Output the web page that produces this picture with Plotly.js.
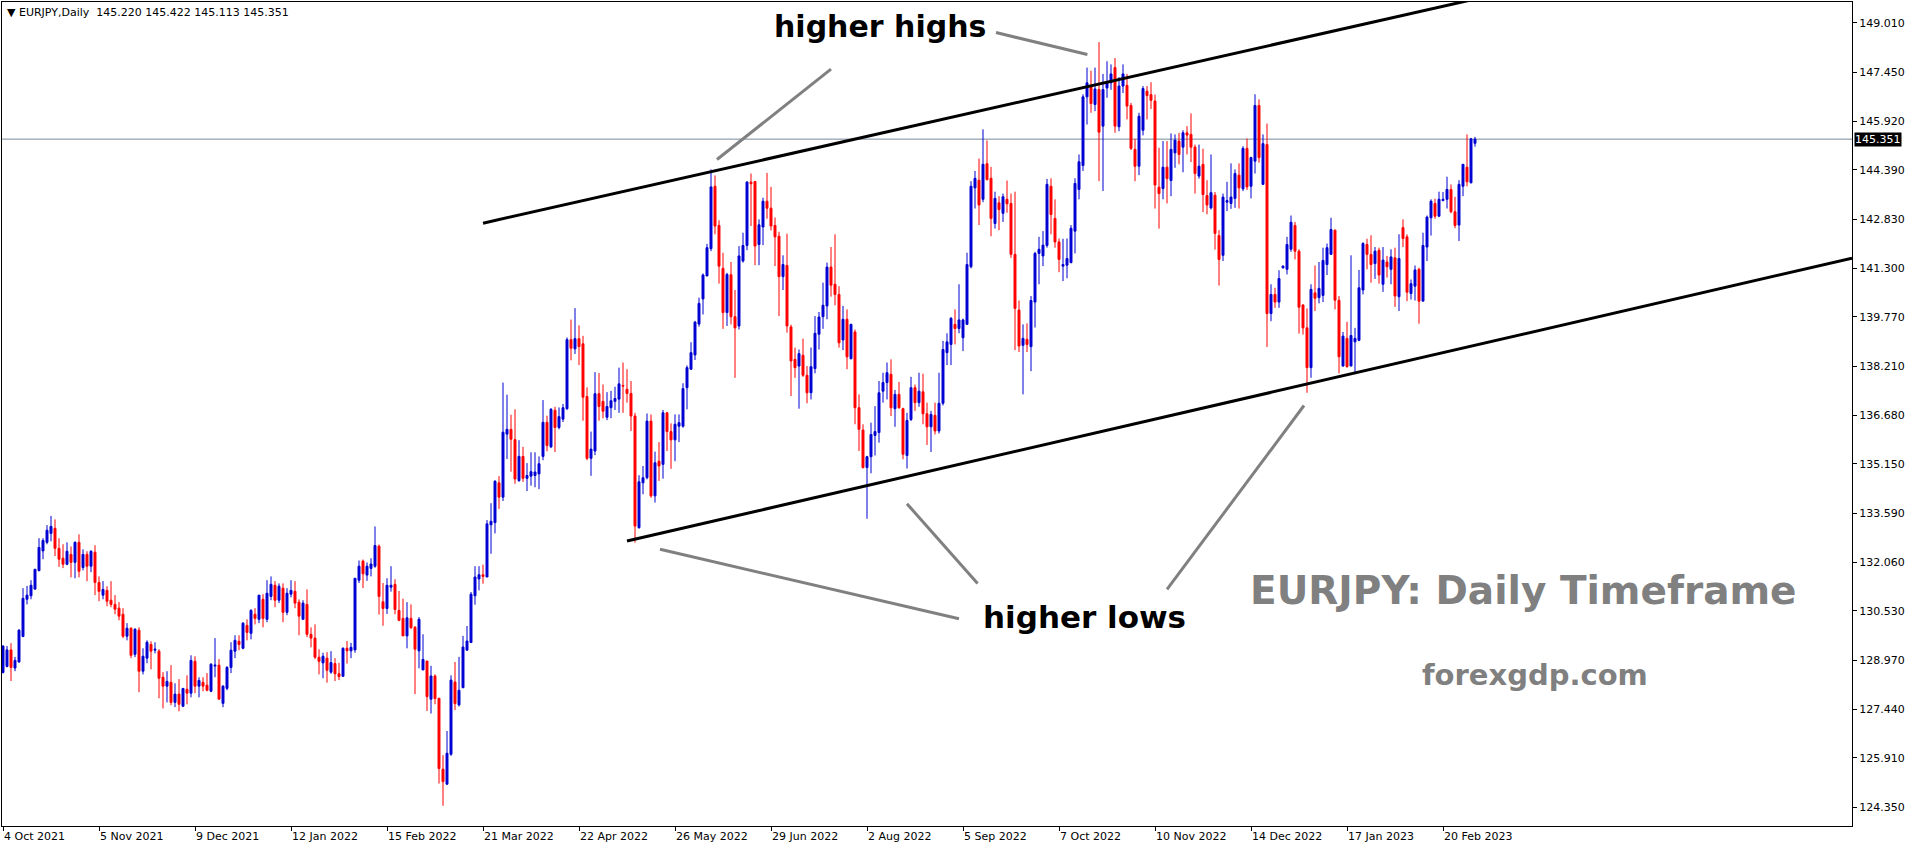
<!DOCTYPE html>
<html>
<head>
<meta charset="utf-8">
<script src="https://cdn.plot.ly/plotly-3.0.1.min.js"></script>
<style>
html,body{margin:0;padding:0;background:#fff;}
#chart{width:1916px;height:850px;}
</style>
</head>
<body>
<div id="chart"></div>
<script>
// ---- data (EURJPY daily) ----
const symbolTitle = "EURJPY,Daily";
const firstDate = "2021-10-04";

const openP = [
128.59,128.78,129.30,128.73,128.92,129.72,130.89,131.00,131.21,131.79,
132.41,132.68,132.96,133.12,132.49,132.18,131.99,132.30,132.05,132.68,
131.89,132.30,131.93,132.37,131.42,131.02,131.17,130.86,130.73,130.61,
130.42,129.73,129.98,129.16,129.92,128.63,129.04,129.47,129.29,129.26,
128.44,128.16,128.28,127.65,127.91,127.53,128.06,127.94,128.94,128.16,
128.28,128.19,128.00,128.79,128.82,127.62,128.09,128.75,129.26,129.57,
129.35,130.07,129.82,130.42,130.26,130.89,130.26,130.98,131.33,130.86,
131.24,130.48,131.05,131.14,130.80,130.26,130.73,129.79,129.67,129.07,
128.89,129.04,128.60,128.87,128.55,128.47,129.35,129.27,129.30,131.49,
132.09,131.65,131.86,131.93,132.56,130.81,130.60,131.27,131.36,130.54,
130.29,129.74,130.29,130.01,129.27,128.67,128.95,127.75,128.48,127.78,
125.55,125.08,126.02,128.29,127.57,128.11,129.29,129.53,131.00,131.53,
131.66,131.59,133.23,133.30,134.55,134.10,136.08,136.23,135.91,134.62,
135.38,134.69,134.76,134.78,134.83,135.38,136.45,135.68,136.83,136.29,
136.55,136.88,139.05,138.76,139.08,138.92,137.26,135.32,135.55,137.35,
137.11,136.61,136.91,137.11,137.18,137.61,137.49,137.36,136.65,133.14,
134.55,134.71,136.49,134.14,135.23,135.13,136.75,136.16,135.90,136.33,
136.33,137.54,138.12,138.57,139.54,140.33,141.05,141.91,143.87,142.64,
141.29,139.90,141.09,139.77,139.48,141.52,142.01,144.00,144.02,142.04,
142.59,143.40,143.18,142.64,142.30,141.03,141.38,139.45,138.43,138.22,
138.56,137.93,137.38,138.14,139.22,139.77,140.11,141.33,140.79,140.47,
139.04,139.69,138.45,139.29,136.91,136.21,135.03,135.37,136.04,136.13,
137.43,137.70,137.96,136.88,137.33,136.88,135.41,136.54,137.54,137.07,
137.41,136.72,136.31,136.67,136.18,137.05,138.64,138.90,139.53,139.40,
139.11,139.53,141.34,143.82,144.06,143.46,144.58,144.12,142.70,143.35,
143.02,143.46,143.33,141.73,139.98,138.87,139.06,138.83,140.23,141.76,
141.68,142.01,143.87,142.86,142.12,141.36,141.39,141.47,142.46,143.77,
144.52,146.68,147.02,146.44,146.91,145.76,146.96,147.12,147.60,145.74,
147.02,147.04,146.41,145.03,144.50,145.63,146.86,146.75,146.55,143.84,
143.80,144.47,144.05,144.92,145.29,145.10,145.55,145.50,145.10,144.19,
144.56,143.58,143.19,143.59,142.32,141.70,143.37,143.33,143.49,144.22,
143.79,145.06,143.87,144.66,146.41,143.93,145.18,139.87,140.47,140.23,
141.31,141.26,141.89,142.64,141.83,140.14,139.42,138.17,140.52,140.37,
140.44,141.41,141.73,142.49,140.29,138.22,139.09,138.22,138.98,139.03,
140.61,142.04,141.73,141.44,141.86,140.79,141.49,141.26,141.62,140.40,
142.57,142.28,140.50,140.73,141.26,140.26,141.96,142.88,143.33,142.93,
143.42,143.46,143.77,143.07,142.65,143.87,144.47,143.98,145.220];

const highP = [
129.44,129.42,129.51,129.08,129.95,131.24,131.31,131.49,131.85,132.81,
132.81,133.22,133.51,133.40,132.81,132.62,132.68,132.55,132.71,132.93,
132.46,132.40,132.43,132.59,131.61,131.46,131.30,131.46,131.02,130.80,
130.61,130.14,130.01,129.98,130.01,129.35,129.60,129.57,129.54,129.32,
128.60,128.63,128.82,128.25,128.38,128.09,128.50,129.13,129.10,128.44,
128.44,128.57,128.88,129.67,129.01,128.19,128.79,129.54,129.76,129.76,
130.17,130.26,130.58,130.61,131.02,131.05,131.49,131.61,131.46,131.39,
131.39,131.24,131.49,131.46,130.89,130.86,131.20,130.01,130.10,129.32,
129.21,129.23,129.26,129.04,128.89,129.38,129.58,129.52,131.55,132.11,
132.14,132.05,132.18,133.18,132.61,131.40,131.55,131.93,131.52,131.15,
130.91,130.80,130.73,130.05,130.33,129.79,128.95,128.80,128.53,127.78,
125.99,126.75,128.50,128.92,129.08,129.74,130.05,131.12,131.93,131.93,
131.98,133.38,133.91,134.63,134.76,137.70,137.32,136.69,136.86,135.89,
135.68,135.17,135.51,135.51,135.38,137.15,136.66,136.90,136.94,136.92,
137.03,139.12,139.68,140.04,139.50,139.17,137.55,136.16,138.03,138.00,
137.64,137.40,137.44,137.57,138.17,138.33,138.12,137.75,136.75,134.79,
135.08,136.73,136.70,135.53,135.83,136.84,136.78,136.42,136.70,136.70,
137.68,138.24,138.97,139.64,140.37,141.13,142.06,144.40,144.21,142.80,
141.78,141.15,141.49,140.61,141.99,142.41,144.03,144.27,144.04,142.83,
143.51,144.29,143.85,142.89,142.44,141.70,142.38,139.52,138.80,138.74,
139.08,138.22,138.80,139.79,139.92,140.84,141.47,141.96,142.36,140.73,
140.11,140.00,139.55,139.37,137.33,136.39,135.40,136.44,136.96,137.75,
138.01,138.33,138.43,137.47,137.72,136.91,136.75,137.88,137.64,138.01,
137.98,137.07,136.81,137.07,138.01,139.01,139.25,139.76,140.00,140.79,
139.71,141.78,144.03,144.35,144.74,145.66,145.31,144.48,143.70,143.56,
143.64,144.05,143.64,143.70,140.28,139.53,139.56,140.42,141.81,142.28,
142.46,144.10,144.12,143.46,142.23,142.22,142.23,142.65,144.12,144.87,
146.76,147.60,147.50,147.60,148.40,147.40,147.80,147.70,147.90,147.30,
147.70,147.40,146.49,145.36,146.18,147.02,147.02,147.14,146.75,145.08,
145.29,145.29,145.53,145.50,145.55,145.63,145.76,146.16,145.18,145.18,
145.05,144.06,144.87,143.69,142.49,143.64,144.01,144.59,144.40,144.59,
145.13,145.37,144.80,146.76,146.60,145.50,145.84,140.79,140.68,141.23,
141.38,142.28,142.95,142.75,141.89,140.16,140.03,140.79,141.38,141.49,
141.94,142.07,142.88,142.51,140.42,139.29,139.61,141.70,139.42,141.24,
142.11,142.22,142.33,141.96,141.94,141.96,141.68,141.89,141.94,142.36,
142.83,142.36,140.94,141.38,141.31,142.41,142.95,143.46,143.48,143.70,
143.69,144.17,143.93,143.54,144.06,144.56,145.50,145.39,145.422];

const lowP = [
128.56,128.75,128.32,128.63,128.90,129.70,130.73,130.89,131.19,131.77,
132.15,132.62,132.71,132.25,131.91,131.87,131.96,131.58,131.55,131.58,
131.80,131.46,131.74,131.02,130.83,130.89,130.67,130.64,130.42,130.23,
129.67,129.60,129.04,129.07,127.97,128.53,128.88,128.69,129.19,127.78,
127.46,127.65,127.56,127.50,127.37,127.50,127.59,127.81,127.94,127.81,
128.00,128.00,127.97,128.44,127.75,127.50,128.03,128.57,129.04,129.29,
129.32,129.60,129.63,130.10,130.14,130.01,130.17,130.86,130.64,130.77,
130.17,130.39,130.95,130.61,129.76,130.26,129.70,129.38,129.01,128.53,
128.41,128.27,128.55,128.32,128.35,128.45,128.87,129.04,129.21,131.40,
131.24,131.47,131.61,131.88,130.41,130.06,130.43,131.13,130.42,130.20,
129.74,129.35,129.95,127.91,128.72,128.67,127.38,127.30,127.59,125.10,
124.40,125.06,125.97,127.41,127.52,128.10,129.29,129.53,130.72,131.17,
131.38,131.59,132.32,132.96,133.73,133.98,135.30,134.90,134.52,134.58,
134.58,134.29,134.46,134.41,134.35,135.26,135.54,135.64,135.52,136.23,
136.46,136.84,138.40,138.60,138.25,136.50,135.26,134.77,135.42,136.50,
136.58,136.52,136.58,136.84,136.75,136.75,137.07,136.18,132.67,133.11,
134.19,134.66,134.08,133.93,134.61,134.68,135.55,134.99,135.23,135.83,
136.28,136.86,138.10,138.41,139.46,139.84,141.05,141.83,142.36,140.81,
139.39,139.48,139.53,137.85,139.37,141.47,141.86,142.62,141.39,141.39,
142.02,142.85,142.48,141.36,139.79,140.61,139.27,137.28,137.85,136.88,
137.88,137.05,137.17,137.99,138.74,139.39,139.69,140.40,140.13,138.80,
138.72,138.12,138.43,136.39,135.55,135.00,133.42,134.85,135.41,135.81,
137.07,137.17,136.65,136.31,136.88,135.29,135.00,136.49,136.81,136.94,
136.39,135.74,135.52,136.07,136.10,136.98,138.25,138.25,138.90,139.25,
138.69,139.53,141.29,143.17,142.65,143.37,144.05,142.30,142.54,142.49,
142.75,143.04,141.62,138.72,138.66,137.33,138.66,138.06,139.43,140.79,
141.36,141.94,142.36,141.94,141.17,140.89,140.98,141.45,141.76,143.46,
144.35,145.81,146.18,146.23,144.03,143.72,146.65,146.90,145.55,145.60,
146.80,145.97,145.01,144.03,144.22,145.47,145.97,146.30,143.17,142.54,
143.46,143.33,143.56,144.45,144.56,144.31,144.87,144.63,143.64,144.11,
143.06,142.99,143.14,141.88,140.75,141.52,143.09,143.16,143.19,143.17,
143.72,143.75,143.49,144.27,144.61,143.91,138.82,139.63,140.05,140.05,
141.28,141.10,141.81,141.57,139.24,139.21,137.38,137.85,139.95,140.19,
140.23,141.08,141.73,140.00,137.99,138.20,138.17,138.22,137.99,139.00,
140.47,141.26,140.84,140.96,140.81,140.55,141.00,140.79,140.08,139.95,
141.96,140.26,140.31,140.28,139.55,140.26,141.52,142.32,142.85,142.91,
143.40,143.17,143.02,142.55,142.15,143.56,143.87,143.96,145.113];

const closeP = [
129.42,129.30,128.75,128.97,129.92,130.92,131.02,131.33,131.83,132.52,
132.74,133.06,133.18,132.49,132.15,131.99,132.40,132.05,132.68,131.77,
132.30,131.93,132.40,131.42,131.14,131.20,130.83,130.73,130.58,130.36,
129.73,129.98,129.13,129.95,128.63,129.10,129.54,129.26,129.32,128.41,
128.16,128.31,127.65,127.91,127.59,128.09,127.94,128.97,128.16,128.34,
128.16,128.03,128.85,128.82,127.75,128.16,128.75,129.29,129.60,129.47,
130.14,129.85,130.54,130.29,131.02,130.29,131.08,131.36,130.86,131.30,
130.48,131.08,131.17,130.77,130.36,130.77,129.79,129.67,129.07,128.94,
129.10,128.66,128.90,128.55,128.46,129.35,129.27,129.38,131.55,131.93,
131.69,131.93,132.00,132.58,130.98,130.60,131.33,131.33,130.57,130.23,
129.74,130.31,130.00,129.32,130.26,129.00,127.83,128.48,127.77,125.57,
125.16,126.05,128.35,127.61,128.03,129.39,129.58,131.05,131.59,131.66,
131.61,133.26,133.34,134.60,134.10,136.14,136.23,135.92,134.67,135.38,
134.69,134.78,134.90,134.89,135.15,136.45,135.72,136.86,136.29,136.63,
136.91,139.05,138.78,139.08,138.83,137.24,135.32,135.61,137.35,136.95,
136.80,136.95,137.13,137.20,137.66,137.59,137.36,136.65,133.19,134.58,
134.71,136.49,134.14,135.18,135.08,136.75,136.16,135.90,136.39,136.44,
137.51,138.17,138.64,139.60,140.19,141.08,141.94,143.85,142.62,141.36,
139.90,141.10,139.77,139.42,141.68,142.01,144.00,143.95,141.99,142.66,
143.40,143.18,142.62,142.28,141.03,141.41,139.48,138.38,138.17,138.61,
137.93,137.38,138.20,139.25,139.76,140.13,141.33,140.76,140.47,138.95,
139.69,138.51,139.53,136.91,136.23,135.03,135.37,136.07,136.16,137.38,
137.70,138.01,136.91,137.33,136.91,135.45,136.51,137.54,137.07,137.43,
136.72,136.31,136.70,136.18,137.05,138.74,138.98,139.72,139.40,139.67,
139.67,141.41,143.87,144.12,143.28,144.56,144.08,142.86,143.49,143.14,
143.54,143.32,141.73,140.03,138.85,139.09,138.90,140.28,141.76,141.89,
142.02,143.93,142.98,142.12,141.57,141.41,141.60,142.55,143.96,144.64,
146.68,147.12,146.47,146.93,145.57,146.91,147.12,147.40,145.76,147.02,
147.40,146.39,145.06,144.50,146.07,146.94,146.72,146.57,143.91,143.64,
144.47,144.11,145.03,145.32,144.87,145.55,145.48,145.10,144.27,144.50,
143.61,143.28,143.67,142.39,141.57,143.53,143.42,143.53,144.27,143.82,
145.06,143.85,144.77,146.41,144.77,145.21,139.87,140.47,140.23,140.97,
141.36,142.04,142.74,141.83,140.07,139.42,138.17,140.63,140.35,140.66,
141.54,141.94,142.51,140.29,138.51,139.16,138.20,139.18,139.09,140.68,
142.07,141.73,141.41,141.83,141.08,141.55,141.34,141.65,140.42,141.60,
142.23,140.54,140.81,141.24,140.26,142.01,142.90,143.40,142.93,143.46,
143.46,143.77,143.07,142.64,143.93,144.56,144.01,145.36,145.351];

const tickDates = ["2021-10-04","2021-11-05","2021-12-09","2022-01-12","2022-02-15","2022-03-21",
  "2022-04-22","2022-05-26","2022-06-29","2022-08-02","2022-09-05","2022-10-07","2022-11-10",
  "2022-12-14","2023-01-17","2023-02-20"];
const tickLabels = ["4 Oct 2021","5 Nov 2021","9 Dec 2021","12 Jan 2022","15 Feb 2022","21 Mar 2022",
  "22 Apr 2022","26 May 2022","29 Jun 2022","2 Aug 2022","5 Sep 2022","7 Oct 2022","10 Nov 2022",
  "14 Dec 2022","17 Jan 2023","20 Feb 2023"];
const priceTicks = [149.010,147.450,145.920,144.390,142.830,141.300,139.770,138.210,136.680,
  135.150,133.590,132.060,130.530,128.970,127.440,125.910,124.350];

const lastPrice = 145.351;
const headerValues = [145.220, 145.422, 145.113, 145.351];

// ---- build trading-day calendar (weekdays) ----
const dates = [];
{
  const d = new Date(firstDate + "T00:00:00Z");
  while (dates.length < closeP.length) {
    const wd = d.getUTCDay();
    if (wd !== 0 && wd !== 6) dates.push(d.toISOString().slice(0, 10));
    d.setUTCDate(d.getUTCDate() + 1);
  }
}
const xIdx = dates.map((_, i) => i);
const tickIdx = tickDates.map(t => dates.indexOf(t));

const BLUE = "#0000d2", RED = "#ff0000";

const trace = {
  type: "candlestick",
  x: xIdx,
  open: openP, high: highP, low: lowP, close: closeP,
  increasing: {line: {color: BLUE, width: 1}, fillcolor: BLUE},
  decreasing: {line: {color: RED, width: 1}, fillcolor: RED},
  whiskerwidth: 0,
  hoverinfo: "skip",
  showlegend: false
};

const FONT = "DejaVu Sans";
const layout = {
  width: 1916, height: 850,
  margin: {l: 2, r: 64, t: 2, b: 24, pad: 0},
  paper_bgcolor: "#ffffff", plot_bgcolor: "#ffffff",
  boxgap: 0.3,
  showlegend: false,
  xaxis: {
    range: [-0.25, 462.25],
    showgrid: false, zeroline: false,
    showline: true, linecolor: "#000", linewidth: 1, mirror: true,
    ticks: "outside", ticklen: 4, tickcolor: "#000", tickwidth: 1,
    tickvals: tickIdx, ticktext: tickLabels,
    ticklabelposition: "outside right",
    tickfont: {family: FONT, size: 11, color: "#000"},
    rangeslider: {visible: false},
    fixedrange: true
  },
  yaxis: {
    side: "right",
    range: [123.765, 149.661],
    showgrid: false, zeroline: false,
    showline: true, linecolor: "#000", linewidth: 1, mirror: true,
    ticks: "outside", ticklen: 4, tickcolor: "#000", tickwidth: 1,
    tickvals: priceTicks, ticktext: priceTicks.map(v => v.toFixed(3)),
    tickfont: {family: FONT, size: 11, color: "#000"},
    fixedrange: true
  },
  shapes: [
    {type: "line", xref: "paper", yref: "y", x0: 0, x1: 1, y0: lastPrice, y1: lastPrice,
     line: {color: "#778899", width: 1}, layer: "below"},
    // channel lines
    {type: "line", xref: "x", yref: "y", x0: 120, y0: 142.71, x1: 470, y1: 152.65,
     line: {color: "#000", width: 3}},
    {type: "line", xref: "x", yref: "y", x0: 156, y0: 132.72, x1: 462.25, y1: 141.61,
     line: {color: "#000", width: 3}},
    // pointers
    {type: "line", xref: "x", yref: "y", x0: 207, y0: 147.55, x1: 178.5, y1: 144.71,
     line: {color: "#808080", width: 3}},
    {type: "line", xref: "x", yref: "y", x0: 248.25, y0: 148.70, x1: 271.1, y1: 148.01,
     line: {color: "#808080", width: 3}},
    {type: "line", xref: "x", yref: "y", x0: 164.25, y0: 132.46, x1: 239, y1: 130.28,
     line: {color: "#808080", width: 3}},
    {type: "line", xref: "x", yref: "y", x0: 226, y0: 133.89, x1: 243.65, y1: 131.39,
     line: {color: "#808080", width: 3}},
    {type: "line", xref: "x", yref: "y", x0: 291, y0: 131.20, x1: 325.25, y1: 136.98,
     line: {color: "#808080", width: 3}}
  ],
  annotations: [
    {xref: "paper", yref: "paper", x: 0, y: 1, xanchor: "left", yanchor: "top",
     xshift: 3, yshift: -2, showarrow: false,
     text: "\u25BC " + symbolTitle + "  " + headerValues.map(v => v.toFixed(3)).join(" "),
     font: {family: FONT, size: 11, color: "#000"}},
    {xref: "paper", yref: "y", x: 1, y: lastPrice, xanchor: "left", yanchor: "middle",
     xshift: 2, showarrow: false, text: lastPrice.toFixed(3), bgcolor: "#000",
     borderpad: 0, font: {family: FONT, size: 11, color: "#fff"}},
    {xref: "x", yref: "y", x: 219.25, y: 148.89, showarrow: false,
     text: "<b>higher highs</b>", font: {family: FONT, size: 30, color: "#000"}},
    {xref: "x", yref: "y", x: 270.25, y: 130.32, showarrow: false,
     text: "<b>higher lows</b>", font: {family: FONT, size: 31, color: "#000"}},
    {xref: "x", yref: "y", x: 380.1, y: 131.17, showarrow: false,
     text: "<b>EURJPY: Daily Timeframe</b>", font: {family: FONT, size: 39, color: "#808080"}},
    {xref: "x", yref: "y", x: 383, y: 128.50, showarrow: false,
     text: "<b>forexgdp.com</b>", font: {family: FONT, size: 29, color: "#808080"}}
  ]
};

Plotly.newPlot("chart", [trace], layout, {staticPlot: true, displayModeBar: false});
</script>
</body>
</html>
